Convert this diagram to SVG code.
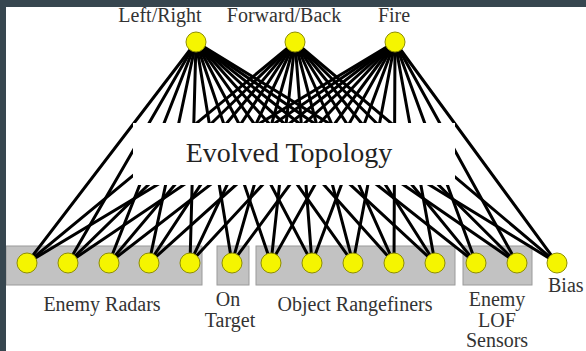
<svg xmlns="http://www.w3.org/2000/svg" width="586" height="351" viewBox="0 0 586 351">
<style>
.lbl{font-family:"Liberation Serif","DejaVu Serif","Times New Roman",serif;font-size:20px;fill:#333;text-anchor:middle}
.title{font-family:"Liberation Serif","DejaVu Serif","Times New Roman",serif;font-size:28px;fill:#222;text-anchor:middle}
.grp{fill:#c2c2c2;stroke:#9a9a9a;stroke-width:1}
.n{fill:#f5f500;stroke:#8f8f00;stroke-width:1}
#connectors line{stroke:#000;stroke-width:3;stroke-linecap:round}
</style>
<rect x="0" y="0" width="586" height="351" fill="#fff"/>
<g id="groups">
<rect class="grp" x="6" y="246" width="196" height="39"/>
<rect class="grp" x="217" y="246" width="32" height="39"/>
<rect class="grp" x="256" y="246" width="199" height="39"/>
<rect class="grp" x="463" y="246" width="69" height="39"/>
</g>
<g id="connectors">
<line x1="196" y1="42" x2="27" y2="263"/><line x1="196" y1="42" x2="68" y2="263"/><line x1="196" y1="42" x2="109" y2="263"/><line x1="196" y1="42" x2="149" y2="263"/><line x1="196" y1="42" x2="190" y2="263"/><line x1="196" y1="42" x2="232" y2="263"/><line x1="196" y1="42" x2="271" y2="263"/><line x1="196" y1="42" x2="312" y2="263"/><line x1="196" y1="42" x2="353" y2="263"/><line x1="196" y1="42" x2="394" y2="263"/><line x1="196" y1="42" x2="435" y2="263"/><line x1="196" y1="42" x2="476" y2="263"/><line x1="196" y1="42" x2="517" y2="263"/><line x1="196" y1="42" x2="557" y2="263"/>
<line x1="295" y1="42" x2="27" y2="263"/><line x1="295" y1="42" x2="68" y2="263"/><line x1="295" y1="42" x2="109" y2="263"/><line x1="295" y1="42" x2="149" y2="263"/><line x1="295" y1="42" x2="190" y2="263"/><line x1="295" y1="42" x2="232" y2="263"/><line x1="295" y1="42" x2="271" y2="263"/><line x1="295" y1="42" x2="312" y2="263"/><line x1="295" y1="42" x2="353" y2="263"/><line x1="295" y1="42" x2="394" y2="263"/><line x1="295" y1="42" x2="435" y2="263"/><line x1="295" y1="42" x2="476" y2="263"/><line x1="295" y1="42" x2="517" y2="263"/><line x1="295" y1="42" x2="557" y2="263"/>
<line x1="395" y1="42" x2="27" y2="263"/><line x1="395" y1="42" x2="68" y2="263"/><line x1="395" y1="42" x2="109" y2="263"/><line x1="395" y1="42" x2="149" y2="263"/><line x1="395" y1="42" x2="190" y2="263"/><line x1="395" y1="42" x2="232" y2="263"/><line x1="395" y1="42" x2="271" y2="263"/><line x1="395" y1="42" x2="312" y2="263"/><line x1="395" y1="42" x2="353" y2="263"/><line x1="395" y1="42" x2="394" y2="263"/><line x1="395" y1="42" x2="435" y2="263"/><line x1="395" y1="42" x2="476" y2="263"/><line x1="395" y1="42" x2="517" y2="263"/><line x1="395" y1="42" x2="557" y2="263"/>
</g>
<g id="evolved-topology">
<rect x="133" y="123" width="322" height="62" fill="#fff"/>
<text class="title" x="289" y="162">Evolved Topology</text>
</g>
<g id="out-leftright"><circle class="n" cx="196" cy="42" r="10"/><text class="lbl" x="160" y="22">Left/Right</text></g>
<g id="out-forwardback"><circle class="n" cx="295" cy="42" r="10"/><text class="lbl" x="284" y="22">Forward/Back</text></g>
<g id="out-fire"><circle class="n" cx="395" cy="42" r="10"/><text class="lbl" x="394" y="22">Fire</text></g>
<g id="in-radar1"><circle class="n" cx="27" cy="263" r="10"/></g>
<g id="in-radar2"><circle class="n" cx="68" cy="263" r="10"/></g>
<g id="in-radar3"><circle class="n" cx="109" cy="263" r="10"/></g>
<g id="in-radar4"><circle class="n" cx="149" cy="263" r="10"/></g>
<g id="in-radar5"><circle class="n" cx="190" cy="263" r="10"/></g>
<g id="in-ontarget"><circle class="n" cx="232" cy="263" r="10"/></g>
<g id="in-range1"><circle class="n" cx="271" cy="263" r="10"/></g>
<g id="in-range2"><circle class="n" cx="312" cy="263" r="10"/></g>
<g id="in-range3"><circle class="n" cx="353" cy="263" r="10"/></g>
<g id="in-range4"><circle class="n" cx="394" cy="263" r="10"/></g>
<g id="in-range5"><circle class="n" cx="435" cy="263" r="10"/></g>
<g id="in-lof1"><circle class="n" cx="476" cy="263" r="10"/></g>
<g id="in-lof2"><circle class="n" cx="517" cy="263" r="10"/></g>
<g id="in-bias"><circle class="n" cx="557" cy="263" r="10"/></g>
<g id="labels">
<text class="lbl" x="102" y="311">Enemy Radars</text>
<text class="lbl" x="228" y="306">On</text>
<text class="lbl" x="230" y="327">Target</text>
<text class="lbl" x="355" y="311">Object Rangefiners</text>
<text class="lbl" x="497" y="306">Enemy</text>
<text class="lbl" x="497" y="327">LOF</text>
<text class="lbl" x="497" y="347">Sensors</text>
<text class="lbl" x="548" y="292" style="text-anchor:start">Bias</text>
</g>
<rect x="0" y="0" width="586" height="7" fill="#37464f"/>
<rect x="0" y="0" width="6" height="351" fill="#37464f"/>
</svg>
